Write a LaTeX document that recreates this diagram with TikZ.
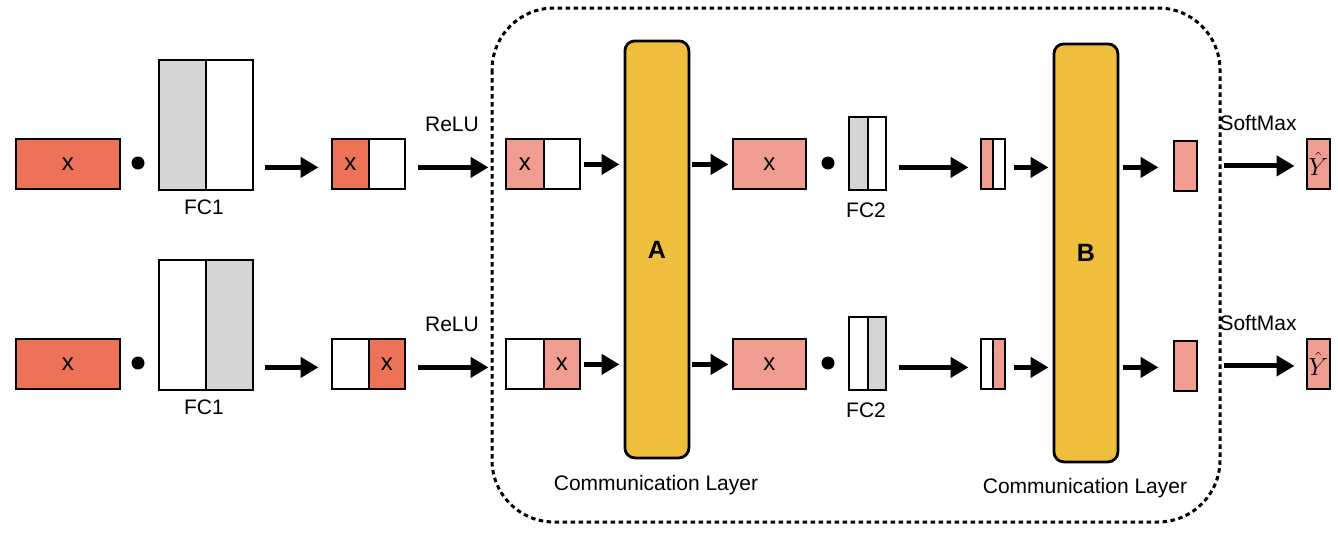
\documentclass[tikz,border=0pt]{standalone}
\usepackage{fontspec}
\setmainfont{Liberation Sans}
\usepackage{amsmath}
\usetikzlibrary{calc}
\usetikzlibrary{arrows.meta}
\definecolor{ecsalm}{HTML}{EC7358}
\definecolor{f1salm}{HTML}{F19C91}
\definecolor{eegold}{HTML}{EEBE3C}
\definecolor{ddgray}{HTML}{D5D5D5}
\tikzset{
  cell/.style={draw,line width=2.8pt,inner sep=0pt,anchor=north west,font=\fontsize{24}{28}\selectfont},
  dotnode/.style={circle,fill=black,inner sep=0pt,minimum size=13pt},
  lbl/.style={font=\fontsize{21}{25}\selectfont},
  arr/.style={line width=5pt,-{Triangle[length=18pt,width=20pt]}},
  comm/.style={draw,line width=2.8pt,fill=eegold,rounded corners=10pt,anchor=north west,minimum width=64pt,inner sep=0pt,font=\bfseries\fontsize{25}{30}\selectfont},
  frame/.style={line width=3pt,dash pattern=on 4.5pt off 3.5pt,rounded corners=62pt}
}

\begin{document}
\begin{tikzpicture}[line cap=butt,line join=miter,x=1pt,y=-1pt]
            \useasboundingbox (0,0) rectangle (1338,538);
            \draw [frame] (492,8) rectangle (1220,522);
            \node [comm,minimum height=417pt] (commA) at (623.5,39.5) {A};
            \node [comm,minimum height=418pt] (commB) at (1052.5,42.5) {B};
            \node [lbl] (commAt) at (656,485) {Communication Layer};
            \node [lbl] (commBt) at (1085,488) {Communication Layer};
            % two rows, mirrored weights
            \foreach \r/\dy/\ga/\gb/\ha/\hb/\la/\lb/\tl/\tr in {1/0/ddgray/white/ecsalm/white/f1salm/white/x/{},2/200/white/ddgray/white/ecsalm/white/f1salm/{}/x}{
              \node [cell,fill=ecsalm,minimum width=104pt,minimum height=50pt] (xin\r) at (14.5,137.5+\dy) {x};
              \node [dotnode] (dotA\r) at (138,163+\dy) {};
              \node [cell,fill=\ga,minimum width=47pt,minimum height=130pt] (fcA\r l) at (157.5,58.5+\dy) {};
              \node [cell,fill=\gb,minimum width=47pt,minimum height=130pt] (fcA\r r) at (204.5,58.5+\dy) {};
              \node [lbl] (fcA\r t) at (204,207+\dy) {FC1};
              \node [cell,fill=\ha,minimum width=37pt,minimum height=50pt] (h\r l) at (330.5,137.5+\dy) {\tl};
              \node [cell,fill=\hb,minimum width=36pt,minimum height=50pt] (h\r r) at (367.5,137.5+\dy) {\tr};
              \node [lbl] (relu\r) at (452,124+\dy) {ReLU};
              \node [cell,fill=\la,minimum width=38pt,minimum height=50pt] (g\r l) at (504.5,137.5+\dy) {\tl};
              \node [cell,fill=\lb,minimum width=36pt,minimum height=50pt] (g\r r) at (542.5,137.5+\dy) {\tr};
              \node [cell,fill=f1salm,minimum width=73pt,minimum height=50pt] (z\r) at (731.5,137.5+\dy) {x};
              \node [dotnode] (dotB\r) at (828,163+\dy) {};
              \node [cell,fill=\ga,minimum width=19pt,minimum height=73pt] (fcB\r l) at (847.5,115.5+\dy) {};
              \node [cell,fill=\gb,minimum width=18pt,minimum height=73pt] (fcB\r r) at (866.5,115.5+\dy) {};
              \node [lbl] (fcB\r t) at (866,210+\dy) {FC2};
              \node [cell,fill=\la,minimum width=12pt,minimum height=50pt] (s\r l) at (979.5,137.5+\dy) {};
              \node [cell,fill=\lb,minimum width=12pt,minimum height=50pt] (s\r r) at (991.5,137.5+\dy) {};
              \node [cell,fill=f1salm,minimum width=23pt,minimum height=50pt] (o\r) at (1172.5,139.5+\dy) {};
              \node [lbl] (soft\r) at (1258,123+\dy) {SoftMax};
              \node [cell,fill=f1salm,minimum width=23pt,minimum height=50pt,font=\fontsize{23}{27}\selectfont] (yh\r) at (1305.5,137.5+\dy) {$\hat{Y}$};
              \draw [arr] ($(fcA\r r.east |- h\r l.west)+(11,3.5)$) -- ($(h\r l.west)+(-12,3.5)$);
              \draw [arr] ($(h\r r.east)+(12,3.5)$) -- ($(g\r l.west)+(-16,3.5)$);
              \draw [arr] ($(g\r r.east)+(3,0.5)$) -- ($(g\r r.east -| commA.west)+(-4,0.5)$);
              \draw [arr] ($(z\r.west -| commA.east)+(2,0.5)$) -- ($(z\r.west)+(-3,0.5)$);
              \draw [arr] ($(fcB\r r.east |- s\r l.west)+(12,3.5)$) -- ($(s\r l.west)+(-11,3.5)$);
              \draw [arr] ($(s\r r.east)+(8,3.5)$) -- ($(s\r r.east -| commB.west)+(-4,3.5)$);
              \draw [arr] ($(o\r.west -| commB.east)+(4,1.5)$) -- ($(o\r.west)+(-14,1.5)$);
              \draw [arr] ($(o\r.east)+(26,0)$) -- ($(o\r.east -| yh\r.west)+(-11,0)$);
            }
\end{tikzpicture}
\end{document}
